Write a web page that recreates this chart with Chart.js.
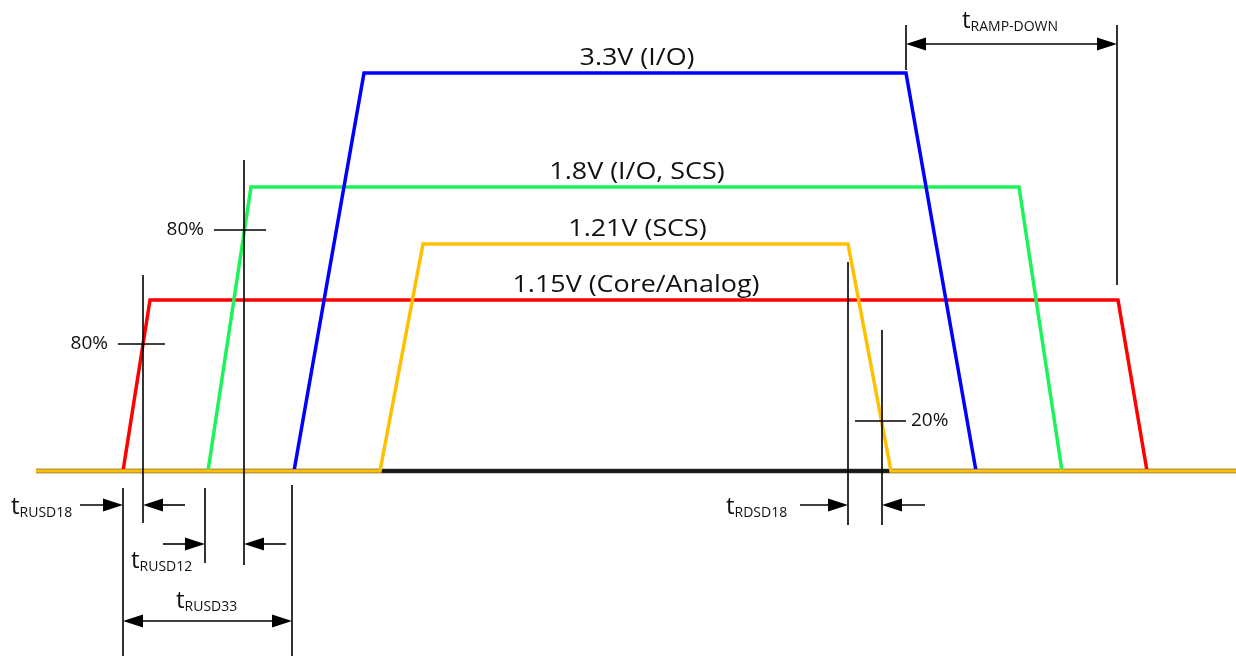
<!DOCTYPE html>
<html>
<head>
<meta charset="utf-8">
<script src="https://cdn.jsdelivr.net/npm/chart.js@4/dist/chart.umd.min.js"></script>
<style>
  html, body { margin: 0; padding: 0; background: #fff; }
  canvas { display: block; }
</style>
</head>
<body>
<canvas id="seq" width="1236" height="656"></canvas>
<script>
// power rails (diagram units: x = time, y = height above the ground line)
const rails = ['1.15V (Core/Analog)', '1.8V (I/O, SCS)', '3.3V (I/O)', '1.21V (SCS)'];
const railLevel = [171, 284, 398, 227];
const rampUpStart = [123, 208, 294, 380];
const rampUpEnd = [150, 251, 364, 423];
const rampDownStart = [1118, 1019, 906, 848];
const rampDownEnd = [1147, 1062, 976, 891];
const railColors = ['#ff0000', '#1ef25a', '#0000ff', '#ffc000'];

// ground line
const groundStart = 36;
const groundEnd = 1236;

// timing markers: [time, top, bottom]
const markerLines = [
    [143, 196, -52], [244, 311, -94],
    [123, -17, -185], [205, -17, -92], [292, -14, -185],
    [848, 209, -54], [882, 141, -54],
    [906, 446, 401], [1117, 446, 186]
];
// threshold ticks: [from, to, level, label]
const thresholdTicks = [
    [118, 165, 127, '80%'],
    [214, 266, 241, '80%'],
    [855, 906, 50, '20%']
];
// single arrows: [from, to, level]
const arrows = [
    [80, 123, -34], [185, 143, -34],
    [163, 205, -73], [286, 244, -73],
    [800, 848, -34], [925, 882, -34]
];
// double arrows: [from, to, level]
const spans = [[123, 292, -150], [906, 1117, 427]];
// timing labels: [time, level, subscript]
const timingLabels = [
    [11, -43, 'RUSD18'],
    [131, -97, 'RUSD12'],
    [176, -137, 'RUSD33'],
    [726, -43, 'RDSD18'],
    [962, 443, 'RAMP-DOWN']
];

var datasets = [];

// 검은 기준선 (노란선 아래)
datasets.push({
    data: [{x: groundStart, y: 0}, {x: groundEnd, y: 0}],
    borderColor: '#3a3020',
    borderWidth: 4.5
});

for (var i = 0; i < rails.length; i++) {
    var pts = [
        {x: rampUpStart[i], y: 0},
        {x: rampUpEnd[i], y: railLevel[i]},
        {x: rampDownStart[i], y: railLevel[i]},
        {x: rampDownEnd[i], y: 0}
    ];
    if (i == 3) {
        // 1.21V 선은 기준선 위로 양쪽 끝까지
        pts.unshift({x: groundStart, y: 0});
        pts.push({x: groundEnd, y: 0});
    }
    datasets.push({
        label: rails[i],
        data: pts,
        borderColor: railColors[i],
        borderWidth: 3.5
    });
}

// 검은 기준선 중간 부분
datasets.push({
    data: [{x: rampUpStart[3] + 2, y: 0}, {x: rampDownEnd[3] - 2, y: 0}],
    borderColor: '#1a1a1a',
    borderWidth: 3.5
});

markerLines.forEach(function (m) {
    datasets.push({
        data: [{x: m[0], y: m[1]}, {x: m[0], y: m[2]}],
        borderColor: '#000',
        borderWidth: 1.6
    });
});
thresholdTicks.forEach(function (t) {
    datasets.push({
        data: [{x: t[0], y: t[2]}, {x: t[1], y: t[2]}],
        borderColor: '#000',
        borderWidth: 1.6
    });
});

// Chart.js는 앞 데이터셋을 위에 그리므로 order로 순서 지정
datasets.forEach(function (d, k) {
    d.order = datasets.length - k;
    d.showLine = true;
    d.pointRadius = 0;
    d.fill = false;
    d.tension = 0;
    d.borderCapStyle = 'butt';
    d.borderJoinStyle = 'miter';
});

function head(ctx, x, y, dir) {
    ctx.beginPath();
    ctx.moveTo(x, y);
    ctx.lineTo(x - dir * 20, y - 6.5);
    ctx.lineTo(x - dir * 20, y + 6.5);
    ctx.closePath();
    ctx.fill();
}

var labelPlugin = {
    id: 'labels',
    afterDatasetsDraw: function (chart) {
        var ctx = chart.ctx;
        var sx = chart.scales.x, sy = chart.scales.y;
        ctx.save();
        ctx.fillStyle = '#000';
        ctx.strokeStyle = '#000';
        ctx.lineWidth = 1.6;

        arrows.forEach(function (a) {
            var x0 = sx.getPixelForValue(a[0]), x1 = sx.getPixelForValue(a[1]);
            var y = sy.getPixelForValue(a[2]);
            var dir = x1 > x0 ? 1 : -1;
            ctx.beginPath();
            ctx.moveTo(x0, y);
            ctx.lineTo(x1 - dir * 10, y);
            ctx.stroke();
            head(ctx, x1, y, dir);
        });
        spans.forEach(function (s) {
            var x0 = sx.getPixelForValue(s[0]), x1 = sx.getPixelForValue(s[1]);
            var y = sy.getPixelForValue(s[2]);
            ctx.beginPath();
            ctx.moveTo(x0 + 10, y);
            ctx.lineTo(x1 - 10, y);
            ctx.stroke();
            head(ctx, x1, y, 1);
            head(ctx, x0, y, -1);
        });

        ctx.fillStyle = '#111';
        // 전원 이름 (가로로 약간 늘림)
        ctx.font = '24px "Open Sans"';
        ctx.textAlign = 'center';
        ctx.textBaseline = 'alphabetic';
        for (var i = 0; i < rails.length; i++) {
            var mid = (rampUpEnd[i] + rampDownStart[i]) / 2;
            ctx.save();
            ctx.translate(sx.getPixelForValue(mid) + 2, sy.getPixelForValue(railLevel[i]) - 8);
            ctx.scale(1.12, 1);
            ctx.fillText(rails[i], 0, 0);
            ctx.restore();
        }

        // 퍼센트 표시
        ctx.font = '19px "Open Sans"';
        ctx.textBaseline = 'middle';
        thresholdTicks.forEach(function (t) {
            var y = sy.getPixelForValue(t[2]);
            if (t[3] == '20%') {
                ctx.textAlign = 'left';
                ctx.fillText(t[3], sx.getPixelForValue(t[1]) + 5, y);
            } else {
                ctx.textAlign = 'right';
                ctx.fillText(t[3], sx.getPixelForValue(t[0]) - 10, y);
            }
        });

        // t + 아래첨자
        ctx.textAlign = 'left';
        ctx.textBaseline = 'alphabetic';
        timingLabels.forEach(function (l) {
            var x = sx.getPixelForValue(l[0]), y = sy.getPixelForValue(l[1]);
            ctx.font = '24px "Open Sans"';
            ctx.fillText('t', x, y);
            var w = ctx.measureText('t').width;
            ctx.font = '14px "Open Sans"';
            ctx.fillText(l[2], x + w, y + 3);
        });
        ctx.restore();
    }
};

var chart = new Chart(document.getElementById('seq'), {
    type: 'scatter',
    data: {datasets: datasets},
    options: {
        responsive: false,
        animation: false,
        layout: {padding: 0},
        plugins: {legend: {display: false}, tooltip: {enabled: false}},
        scales: {
            x: {type: 'linear', min: 0, max: 1236, display: false},
            y: {type: 'linear', min: -185, max: 471, display: false}
        }
    },
    plugins: [labelPlugin]
});
</script>
</body>
</html>
